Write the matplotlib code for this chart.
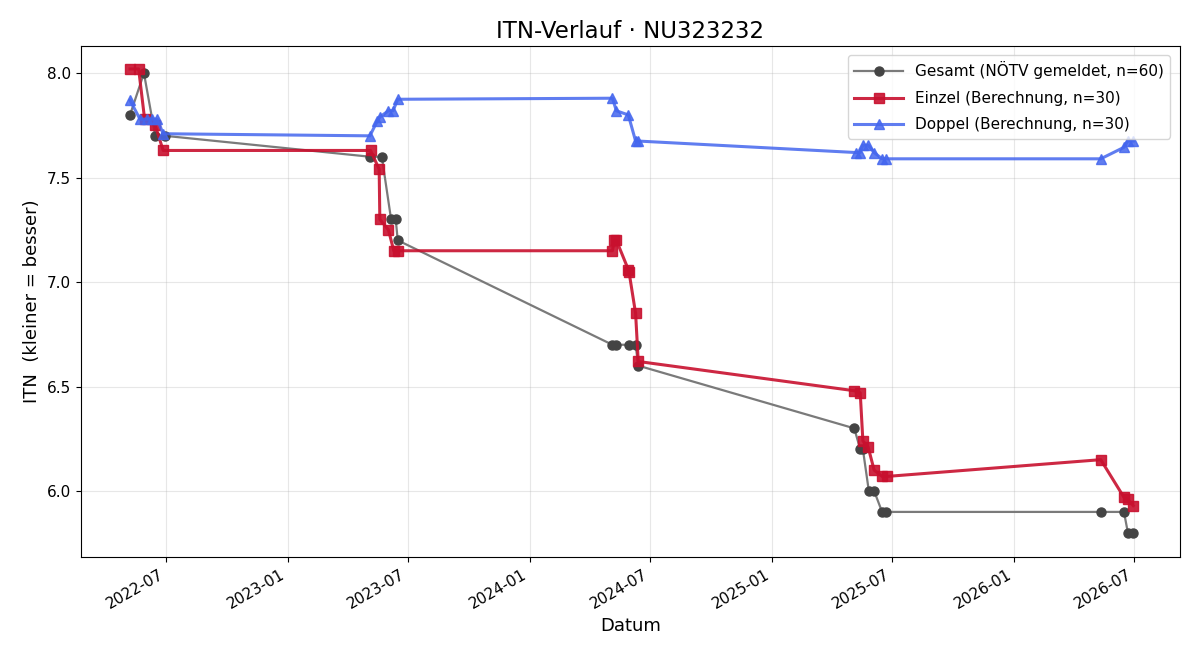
import pandas as pd
import matplotlib.pyplot as plt
import matplotlib.dates as mdates

# Gesamt (vom Verband gemeldet)
gesamt_dates = ["2022-05-08", "2022-05-29", "2022-06-15", "2022-06-30",
                "2023-05-05", "2023-05-23", "2023-06-06", "2023-06-13", "2023-06-16",
                "2024-05-05", "2024-05-11", "2024-05-30", "2024-06-09", "2024-06-13",
                "2025-05-05", "2025-05-14", "2025-05-18", "2025-05-27", "2025-06-04",
                "2025-06-16", "2025-06-22",
                "2026-05-12", "2026-06-16", "2026-06-22", "2026-06-30"]
gesamt_itn = [7.80, 8.00, 7.70, 7.70,
              7.60, 7.60, 7.30, 7.30, 7.20,
              6.70, 6.70, 6.70, 6.70, 6.60,
              6.30, 6.20, 6.20, 6.00, 6.00,
              5.90, 5.90,
              5.90, 5.90, 5.80, 5.80]

einzel_dates = ["2022-05-08", "2022-05-21", "2022-05-30", "2022-06-15", "2022-06-27",
                "2023-05-06", "2023-05-19", "2023-05-20", "2023-06-02", "2023-06-10", "2023-06-16",
                "2024-05-05", "2024-05-08", "2024-05-11", "2024-05-29", "2024-05-30",
                "2024-06-09", "2024-06-13",
                "2025-05-05", "2025-05-14", "2025-05-18", "2025-05-26", "2025-06-04",
                "2025-06-16", "2025-06-24",
                "2026-05-12", "2026-06-16", "2026-06-22", "2026-06-30"]
einzel_itn = [8.02, 8.02, 7.78, 7.75, 7.63,
              7.63, 7.54, 7.30, 7.25, 7.15, 7.15,
              7.15, 7.20, 7.20, 7.06, 7.05,
              6.85, 6.62,
              6.48, 6.47, 6.24, 6.21, 6.10,
              6.07, 6.07,
              6.15, 5.97, 5.96, 5.93]

doppel_dates = ["2022-05-08", "2022-05-23", "2022-06-02", "2022-06-10", "2022-06-18", "2022-06-27",
                "2023-05-05", "2023-05-16", "2023-05-20", "2023-06-02", "2023-06-09", "2023-06-16",
                "2024-05-05", "2024-05-11", "2024-05-29", "2024-06-09", "2024-06-13",
                "2025-05-08", "2025-05-14", "2025-05-18", "2025-05-26", "2025-06-04",
                "2025-06-16", "2025-06-22",
                "2026-05-12", "2026-06-16", "2026-06-22", "2026-06-30"]
doppel_itn = [7.87, 7.78, 7.78, 7.78, 7.78, 7.71,
              7.70, 7.77, 7.79, 7.82, 7.82, 7.875,
              7.88, 7.82, 7.80, 7.675, 7.675,
              7.62, 7.62, 7.655, 7.655, 7.62,
              7.59, 7.59,
              7.59, 7.645, 7.675, 7.675]

fig, ax = plt.subplots(figsize=(12, 6.6), dpi=100)

ax.plot(pd.to_datetime(gesamt_dates), gesamt_itn, color="#7a7a7a", marker="o",
        markersize=6.5, markerfacecolor="#444444", markeredgecolor="#444444",
        linewidth=1.6, label="Gesamt (NÖTV gemeldet, n=60)")
ax.plot(pd.to_datetime(einzel_dates), einzel_itn, color="#c8102e", marker="s",
        markersize=7.5, linewidth=2.2, alpha=0.9, label="Einzel (Berechnung, n=30)")
ax.plot(pd.to_datetime(doppel_dates), doppel_itn, color="#4466ee", marker="^",
        markersize=7.5, linewidth=2.2, alpha=0.85, label="Doppel (Berechnung, n=30)")

ax.set_title("ITN-Verlauf · NU323232", fontsize=16.5)
ax.set_xlabel("Datum", fontsize=13)
ax.set_ylabel("ITN  (kleiner = besser)", fontsize=13)
ax.tick_params(labelsize=11)
ax.set_ylim(5.684, 8.129)
ax.set_xlim(pd.Timestamp("2022-02-23"), pd.Timestamp("2026-09-08"))
ax.xaxis.set_major_locator(mdates.MonthLocator(bymonth=[1, 7]))
ax.xaxis.set_major_formatter(mdates.DateFormatter("%Y-%m"))
ax.grid(True, alpha=0.3)
ax.legend(loc="upper right", fontsize=11, handlelength=3.2, labelspacing=0.75,
          borderaxespad=0.6)
fig.autofmt_xdate()
fig.subplots_adjust(left=0.0675, right=0.983, top=0.93, bottom=0.156)

fig.savefig("out.png")
